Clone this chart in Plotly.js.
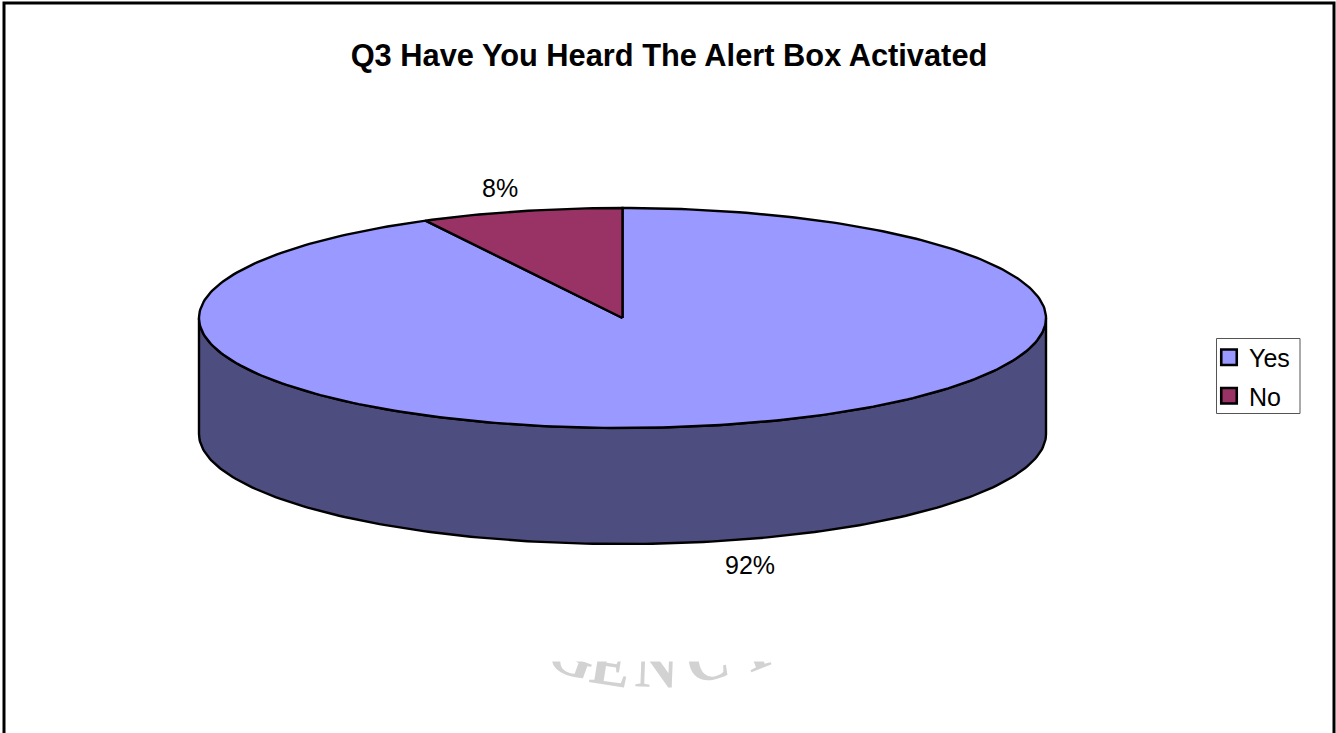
<!DOCTYPE html>
<html>
<head>
<meta charset="utf-8">
<script src="https://cdn.plot.ly/plotly-3.0.1.min.js"></script>
<style>html,body{margin:0;padding:0;background:#fff}#c{width:1336px;height:733px}</style>
</head>
<body>
<div id="c"></div>
<script>
const titleText = 'Q3 Have You Heard The Alert Box Activated';
const categories = ['Yes', 'No'];
const values = [92.3, 7.7];
const topColors = ['#9999FF', '#993366'];
const wallColor = '#4D4D80';
const watermarkLetters = ['G', 'E', 'N', 'C', 'Y'];

// Drawing geometry for the tilted pie (page pixels on the axes below)
const pie = {cx: 622.5, cy: 318, rx: 423.5, ry: 110, depth: 116};
const FONT = 'Liberation Sans, Arial, sans-serif';
const EDGE = 2.4;

function rim(a0, a1, dy) {
  const xs = [], ys = [];
  const n = Math.max(2, Math.ceil(Math.abs(a1 - a0) / (Math.PI / 180)));
  for (let i = 0; i <= n; i++) {
    const a = a0 + (a1 - a0) * i / n;
    xs.push(pie.cx + pie.rx * Math.sin(a));
    ys.push(pie.cy - pie.ry * Math.cos(a) + dy);
  }
  return [xs, ys];
}

const total = values.reduce((s, v) => s + v, 0);
const traces = [];

// Visible front wall of the first slice: from the right edge round to the left edge
const [wx1, wy1] = rim(Math.PI / 2, 3 * Math.PI / 2, 0);
const [wx2, wy2] = rim(3 * Math.PI / 2, Math.PI / 2, pie.depth);
traces.push({
  x: wx1.concat(wx2, [wx1[0]]), y: wy1.concat(wy2, [wy1[0]]),
  mode: 'lines', fill: 'toself', fillcolor: wallColor,
  line: {color: '#000', width: EDGE}, showlegend: false, hoverinfo: 'skip'
});

// Top faces, clockwise from twelve o'clock
let start = 0;
values.forEach((v, i) => {
  const end = start + v / total * 2 * Math.PI;
  const [rx, ry] = rim(start, end, 0);
  traces.push({
    x: [pie.cx].concat(rx, [pie.cx]), y: [pie.cy].concat(ry, [pie.cy]),
    mode: 'lines', fill: 'toself', fillcolor: topColors[i],
    line: {color: '#000', width: EDGE}, showlegend: false,
    name: categories[i], hoverinfo: 'name'
  });
  start = end;
});

// Legend entries
categories.forEach((c, i) => {
  traces.push({
    x: [null], y: [null], mode: 'markers', name: c, legendgroup: c,
    marker: {symbol: 'square', size: 15.5, color: topColors[i], line: {color: '#000', width: 2.6}}
  });
});

const pct = values.map(v => Math.round(v / total * 100) + '%');
const labelAt = [[750, 565], [500, 188]];
const annotations = pct.map((t, i) => ({
  x: labelAt[i][0], y: labelAt[i][1], xref: 'x', yref: 'y', text: t, showarrow: false,
  xanchor: 'center', yanchor: 'middle', font: {family: FONT, size: 25, color: '#000'}
}));

// Faded stamp at the foot of the page, cut off along its top by a white strip
const stampAt = [[572, 655, 20], [611, 665, 9], [656, 667, 2], [707, 660, -10], [753, 650, -22]];
watermarkLetters.forEach((t, i) => annotations.push({
  x: stampAt[i][0], y: stampAt[i][1], xref: 'x', yref: 'y', text: '<b>' + t + '</b>', showarrow: false,
  textangle: stampAt[i][2], xanchor: 'center', yanchor: 'middle',
  font: {family: 'Liberation Serif, serif', size: 60, color: '#D2D2D2'}
}));
annotations.push({
  x: 660, y: 640, xref: 'x', yref: 'y', text: ' ', showarrow: false,
  xanchor: 'center', yanchor: 'middle', width: 340, height: 40, bgcolor: '#fff',
  font: {size: 10}
});

const layout = {
  width: 1336, height: 733, margin: {l: 0, r: 0, t: 0, b: 0},
  paper_bgcolor: '#fff', plot_bgcolor: '#fff',
  title: {
    text: '<b>' + titleText + '</b>', x: 669 / 1336, y: 1 - 55 / 733,
    xanchor: 'center', yanchor: 'middle', font: {family: FONT, size: 30.8, color: '#000'}
  },
  xaxis: {range: [0, 1336], visible: false, fixedrange: true},
  yaxis: {range: [733, 0], visible: false, fixedrange: true},
  legend: {
    x: 1209 / 1336, y: 1 - 334.5 / 733, xanchor: 'left', yanchor: 'top',
    bgcolor: 'rgba(0,0,0,0)', borderwidth: 0,
    font: {family: FONT, size: 25, color: '#000'},
    tracegroupgap: 3, itemwidth: 30
  },
  shapes: [{
    type: 'rect', xref: 'x', yref: 'y', x0: 4, y0: 3, x1: 1334, y1: 745,
    line: {color: '#000', width: 3}, layer: 'above'
  }, {
    type: 'rect', xref: 'x', yref: 'y', x0: 1216.5, y0: 338.5, x1: 1300, y1: 413.5,
    line: {color: '#555', width: 1}, layer: 'below'
  }],
  annotations: annotations
};

Plotly.newPlot('c', traces, layout, {displayModeBar: false, responsive: false});
</script>
</body>
</html>
